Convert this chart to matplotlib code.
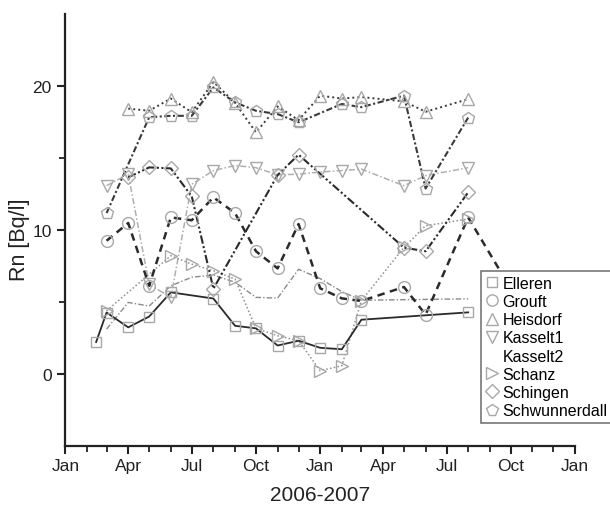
import numpy as np
import matplotlib
matplotlib.use("Agg")
import matplotlib.pyplot as plt
import matplotlib.dates as mdates
from matplotlib.lines import Line2D

plt.rcParams['font.family'] = ['Liberation Sans', 'DejaVu Sans']

# ---------------- data ----------------
elleren_dates = ['2006-02-14', '2006-03-01', '2006-04-01', '2006-05-01', '2006-06-01', '2006-08-01',
                 '2006-09-01', '2006-10-01', '2006-11-01', '2006-12-01', '2007-01-01', '2007-02-01',
                 '2007-03-01', '2007-08-01']
elleren_vals = [2.2, 4.25, 3.22, 3.97, 5.65, 5.22, 3.33, 3.15, 1.96, 2.29, 1.8, 1.7, 3.75, 4.26]

grouft_dates = ['2006-03-01', '2006-04-01', '2006-05-01', '2006-06-01', '2006-07-01', '2006-08-01',
                '2006-09-01', '2006-10-01', '2006-11-01', '2006-12-01', '2007-01-01', '2007-02-01',
                '2007-03-01', '2007-05-01', '2007-06-01', '2007-08-01', '2007-10-01']
grouft_vals = [9.23, 10.46, 6.1, 10.85, 10.65, 12.24, 11.15, 8.5, 7.31, 10.39, 5.93, 5.23,
               5.05, 6.02, 4.1, 10.85, 5.9]

heisdorf_dates = ['2006-04-01', '2006-05-01', '2006-06-01', '2006-07-01', '2006-08-01', '2006-09-01',
                  '2006-10-01', '2006-11-01', '2006-12-01', '2007-01-01', '2007-02-01', '2007-03-01',
                  '2007-05-01', '2007-06-01', '2007-08-01']
heisdorf_vals = [18.4, 18.25, 19.1, 18.15, 20.25, 18.8, 16.75, 18.55, 17.6, 19.3, 19.1, 19.2,
                 18.9, 18.18, 19.06]

kasselt1_dates = ['2006-03-01', '2006-04-01', '2006-05-01', '2006-06-01', '2006-07-01', '2006-08-01',
                  '2006-09-01', '2006-10-01', '2006-11-01', '2006-12-01', '2007-01-01', '2007-02-01',
                  '2007-03-01', '2007-05-01', '2007-06-01', '2007-08-01']
kasselt1_vals = [13.05, 13.85, 6.2, 5.3, 13.15, 14.1, 14.45, 14.3, 13.8, 13.85, 14.0, 14.1,
                 14.2, 13.05, 13.75, 14.3]

kasselt2_dates = ['2006-03-01', '2006-04-01', '2006-05-01', '2006-06-01', '2006-07-01', '2006-08-01',
                  '2006-09-01', '2006-10-01', '2006-11-01', '2006-12-01', '2007-01-01', '2007-02-01',
                  '2007-03-01', '2007-08-01']
kasselt2_vals = [3.1, 4.95, 4.7, 6.1, 6.7, 6.85, 6.35, 5.3, 5.25, 7.25, 6.6, 5.7, 5.1, 5.2]

schanz_dates = ['2006-03-01', '2006-06-01', '2006-07-01', '2006-08-01', '2006-09-01', '2006-10-01',
                '2006-11-01', '2006-12-01', '2007-01-01', '2007-02-01', '2007-03-01', '2007-05-01',
                '2007-06-01', '2007-08-01']
schanz_vals = [4.37, 8.19, 7.61, 7.15, 6.57, 3.15, 2.64, 2.29, 0.21, 0.56, 5.07, 8.77, 10.27, 10.74]

schingen_dates = ['2006-04-01', '2006-05-01', '2006-06-01', '2006-07-01', '2006-08-01', '2006-11-01',
                  '2006-12-01', '2007-05-01', '2007-06-01', '2007-08-01']
schingen_vals = [13.63, 14.32, 14.25, 12.31, 5.9, 13.79, 15.2, 8.75, 8.5, 12.59]

schwunnerdall_dates = ['2006-03-01', '2006-05-01', '2006-06-01', '2006-07-01', '2006-08-01', '2006-09-01',
                       '2006-10-01', '2006-11-01', '2006-12-01', '2007-02-01', '2007-03-01', '2007-05-01',
                       '2007-06-01', '2007-08-01']
schwunnerdall_vals = [11.15, 17.8, 17.9, 17.9, 19.87, 18.83, 18.25, 18.02, 17.45, 18.72, 18.5,
                      19.3, 12.85, 17.78]

station_names = ['Elleren', 'Grouft', 'Heisdorf', 'Kasselt1', 'Kasselt2', 'Schanz', 'Schingen',
                 'Schwunnerdall']
x_label = '2006-2007'
y_label = 'Rn [Bq/l]'

# ---------------- styles ----------------
mk_col = '#a8a8a8'
styles = {
    'Elleren': dict(marker='s', ms=7.5, color='#2a2a2a', ls='-', lw=1.3),
    'Grouft': dict(marker='o', ms=8.5, color='#2a2a2a', ls=(0, (3.0, 2.2)), lw=1.8),
    'Heisdorf': dict(marker='^', ms=9, color='#3a3a3a', ls=(0, (1.0, 1.6)), lw=1.4),
    'Kasselt1': dict(marker='v', ms=9, color='#b0b0b0', ls=(0, (4, 1.5, 1, 1.5)), lw=1.1),
    'Kasselt2': dict(marker='None', ms=0, color='#8a8a8a', ls=(0, (4, 1.5, 1, 1.5)), lw=1.0),
    'Schanz': dict(marker='>', ms=9, color='#909090', ls=(0, (1.0, 1.5)), lw=1.1),
    'Schingen': dict(marker='D', ms=7, color='#2a2a2a', ls=(0, (4, 1.2, 1, 1.2, 1, 1.2)), lw=1.5),
    'Schwunnerdall': dict(marker='p', ms=9, color='#3a3a3a', ls=(0, (3, 1.2, 1, 1.2)), lw=1.5),
}

series = {
    'Elleren': (elleren_dates, elleren_vals),
    'Grouft': (grouft_dates, grouft_vals),
    'Heisdorf': (heisdorf_dates, heisdorf_vals),
    'Kasselt1': (kasselt1_dates, kasselt1_vals),
    'Kasselt2': (kasselt2_dates, kasselt2_vals),
    'Schanz': (schanz_dates, schanz_vals),
    'Schingen': (schingen_dates, schingen_vals),
    'Schwunnerdall': (schwunnerdall_dates, schwunnerdall_vals),
}

W, H = 610, 506
left_px, right_px, top_px, bottom_px = 65.4, 575.0, 14.5, 446.8
fig = plt.figure(figsize=(W / 100, H / 100), dpi=100)
ax = fig.add_axes([left_px / W, 1 - bottom_px / H, (right_px - left_px) / W, (bottom_px - top_px) / H])

draw_order = ['Kasselt2', 'Kasselt1', 'Schanz', 'Heisdorf', 'Schwunnerdall', 'Schingen', 'Grouft', 'Elleren']
for name in draw_order:
    d, v = series[name]
    st = styles[name]
    dates = np.array(d, dtype='datetime64[D]')
    ax.plot(dates, v, color=st['color'], linestyle=st['ls'], linewidth=st['lw'], zorder=2)
    if st['marker'] != 'None':
        mv = list(range(len(v)))
        if name == 'Grouft':
            mv = mv[:-1]
        ax.plot(dates, v, linestyle='None', marker=st['marker'], markersize=st['ms'],
                markerfacecolor='none', markeredgecolor=mk_col, markeredgewidth=1.0,
                markevery=mv, zorder=3)

ax.set_xlim(np.datetime64('2006-01-01'), np.datetime64('2008-01-01'))
ax.set_ylim(-5, 25)

ax.xaxis.set_major_locator(mdates.MonthLocator(bymonth=[1, 4, 7, 10]))
ax.xaxis.set_minor_locator(mdates.MonthLocator())
ax.xaxis.set_major_formatter(mdates.DateFormatter('%b'))
ax.set_yticks([0, 10, 20])
ax.set_yticks([5, 15], minor=True)

for s in ['top', 'right']:
    ax.spines[s].set_visible(False)
for s in ['left', 'bottom']:
    ax.spines[s].set_linewidth(1.6)
    ax.spines[s].set_color('#222222')

ax.tick_params(axis='both', which='major', direction='out', length=6, width=1.5,
               labelsize=12.5, colors='#222222')
ax.tick_params(axis='both', which='minor', direction='out', length=4, width=1.3, colors='#222222')
ax.tick_params(axis='x', pad=3)
ax.tick_params(axis='y', pad=4)

fig.text(320 / W, 1 - 496 / H, x_label, fontsize=15, ha='center', va='center', color='#222222')
fig.text(19 / W, 1 - 240 / H, y_label, fontsize=15.5, ha='center', va='center', rotation=90,
         color='#222222')

handles = []
for name in station_names:
    st = styles[name]
    if st['marker'] == 'None':
        handles.append(Line2D([], [], linestyle='None', marker='None'))
    else:
        handles.append(Line2D([], [], linestyle='None', marker=st['marker'],
                              markersize=st['ms'] * 0.95, markerfacecolor='none',
                              markeredgecolor=mk_col, markeredgewidth=1.0))
leg = ax.legend(handles, station_names, loc='upper left',
                bbox_to_anchor=((481 - left_px) / (right_px - left_px), (bottom_px - 272) / (bottom_px - top_px)),
                borderaxespad=0, frameon=True, fancybox=False, framealpha=1,
                edgecolor='#777777', fontsize=11.5, handlelength=0.8, handletextpad=0.25,
                labelspacing=0.2, borderpad=0.3)
leg.get_frame().set_linewidth(1.2)
leg.set_zorder(10)

fig.savefig('out.png', dpi=100)
